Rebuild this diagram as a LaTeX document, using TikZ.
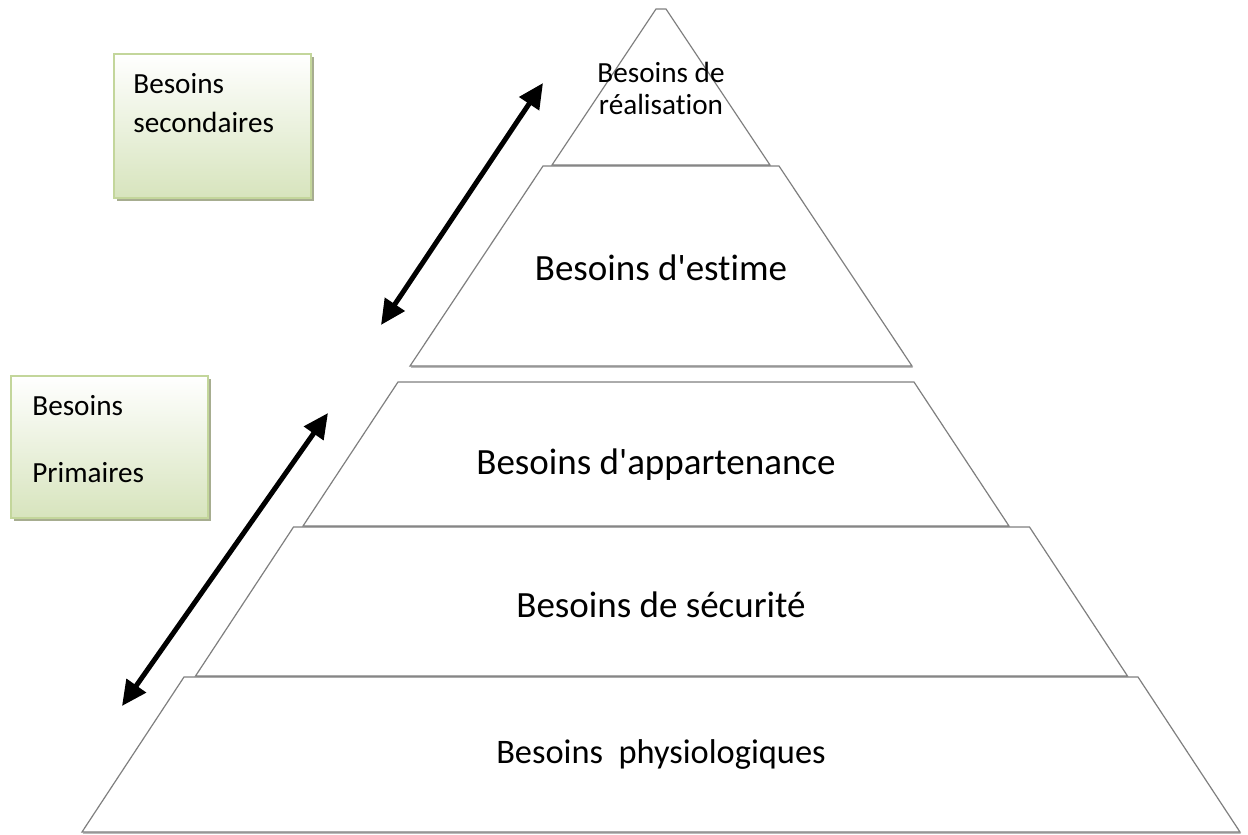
\documentclass[tikz,border=0pt]{standalone}
\usepackage{fontspec}
\setmainfont{Carlito}[Ligatures=NoCommon]
\usepackage{tikz}
\usetikzlibrary{positioning}
\usetikzlibrary{shadows}
\usetikzlibrary{arrows.meta}
\definecolor{vertclair}{HTML}{D7E4BD}
\definecolor{bordvert}{HTML}{C3D69B}
\definecolor{ombreverte}{HTML}{A7AD90}
\definecolor{traitgris}{HTML}{7F7F7F}
\begin{document}
\begin{tikzpicture}[x=0.5pt,y=-0.5pt]
% définition des paramètres
\tikzstyle etagepyramide=[draw=traitgris,line width=0.6pt,fill=white,drop shadow={shadow xshift=0.4pt,shadow yshift=-0.9pt,fill=black!45,opacity=0.6}]
\tikzstyle boitebesoins=[draw=bordvert,line width=1pt,top color=white,bottom color=vertclair,minimum width=98.5pt,minimum height=72pt,anchor=north west,inner sep=0pt,drop shadow={shadow xshift=1.6pt,shadow yshift=-1.6pt,fill=ombreverte,opacity=1}]
\tikzstyle textepetit=[font=\fontsize{14.6}{16}\selectfont,inner sep=0pt]
\tikzstyle textegrand=[font=\fontsize{18.5}{22}\selectfont,inner sep=0pt,anchor=base]
\tikzstyle flechedouble=[line width=2.5pt,{Triangle[length=12.5pt,width=11.5pt]}-{Triangle[length=12.5pt,width=11.5pt]}]
\newcommand{\milieupyr}{661} % axe de la pyramide
\useasboundingbox (0,0) rectangle (1248,835);
% le sommet
\filldraw[etagepyramide] (656,9) -- (666,9) -- (770,165) -- (552,165) -- cycle;
% les étages : haut / bas / demi-largeur haut / demi-largeur bas / centre
\foreach \yh/\yb/\xh/\xb/\xc in {166/366/118/251/661, 382/526/258/353/656, 527/676/368/466/661.5, 677/832/477/579/661}
    \filldraw[etagepyramide] (\xc-\xh,\yh) -- (\xc+\xh,\yh) -- (\xc+\xb,\yb) -- (\xc-\xb,\yb) -- cycle;
% les textes de la pyramide
\node[textepetit,align=center] (realisation) at (\milieupyr,88) {Besoins de\\réalisation};
\node[textegrand] (estime) at (\milieupyr,280) {Besoins d\textquotesingle estime};
\node[textegrand] (appartenance) at (656,474) {Besoins d\textquotesingle appartenance};
\node[textegrand] (securite) at (\milieupyr,617) {Besoins de sécurité};
\node[textegrand,font=\fontsize{17.2}{20}\selectfont] (physio) at (\milieupyr,763) {Besoins~~physiologiques};
% les boites
\node[boitebesoins] (secondaires) at (113,53) {};
\node[textepetit,anchor=base west] (secA) at (133,93) {Besoins};
\node[textepetit,anchor=base west] (secB) at (133,132) {secondaires};
\node[boitebesoins,minimum height=71pt] (primaires) at (10,375) {};
\node[textepetit,anchor=base west] (primA) at (32,415) {Besoins};
\node[textepetit,anchor=base west] (primB) at (32,482) {Primaires};
% les flèches
\coordinate (hautA) at (543,83);
\coordinate (basA) at (381,325);
\coordinate (hautB) at (328,413);
\coordinate (basB) at (122,706);
\draw[flechedouble] (basA) -- (hautA);
\draw[flechedouble] (basB) -- (hautB);
\end{tikzpicture}
\end{document}
